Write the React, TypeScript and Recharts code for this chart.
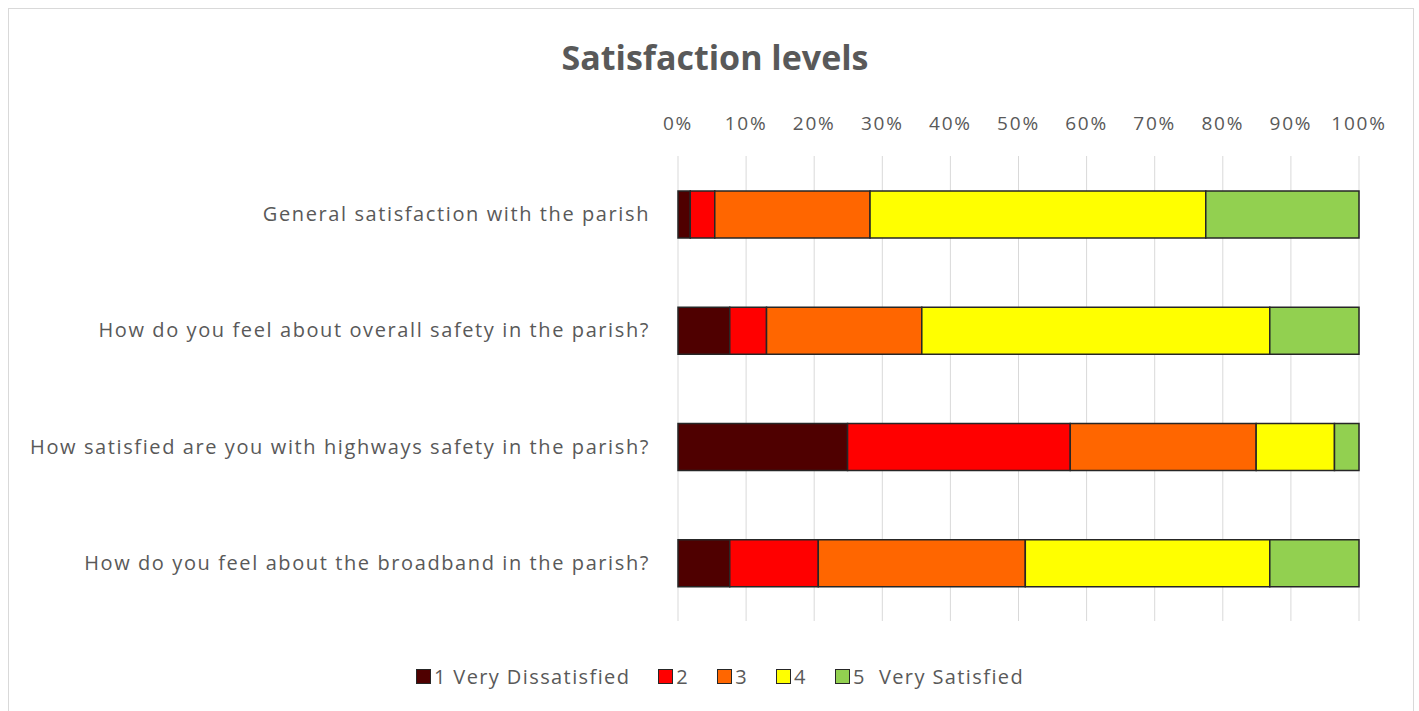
import { Bar, BarChart, CartesianGrid, XAxis, YAxis } from "recharts";

const questions = [
  "General satisfaction with the parish",
  "How do you feel about overall safety in the parish?",
  "How satisfied are you with highways safety in the parish?",
  "How do you feel about the broadband in the parish?",
];

const veryDissatisfied = [1.8, 7.6, 24.9, 7.6];
const dissatisfied = [3.6, 5.4, 32.7, 13.0];
const neutral = [22.8, 22.8, 27.3, 30.4];
const satisfied = [49.3, 51.1, 11.5, 35.9];
const verySatisfied = [22.5, 13.1, 3.6, 13.1];

const seriesNames = ["1 Very Dissatisfied", "2", "3", "4", "5  Very Satisfied"];
const seriesColors = ["#4f0000", "#ff0000", "#ff6600", "#ffff00", "#92d050"];
const percentTicks = [0, 10, 20, 30, 40, 50, 60, 70, 80, 90, 100];

const data = questions.map((q, i) => ({
  question: q,
  s1: veryDissatisfied[i],
  s2: dissatisfied[i],
  s3: neutral[i],
  s4: satisfied[i],
  s5: verySatisfied[i],
}));

const keys = ["s1", "s2", "s3", "s4", "s5"];
const textColor = "#595959";
const font = "'Open Sans', sans-serif";

export default function App() {
  return (
    <div
      style={{
        position: "absolute",
        left: 0,
        top: 0,
        width: 1419,
        height: 711,
        background: "#fff",
        fontFamily: font,
      }}
    >
      <div
        style={{
          position: "absolute",
          left: 8,
          top: 8,
          width: 1406,
          height: 710,
          border: "1px solid #d9d9d9",
          boxSizing: "border-box",
        }}
      />
      <div
        style={{
          position: "absolute",
          left: 0,
          width: 1430,
          top: 34,
          textAlign: "center",
          fontSize: 34,
          fontWeight: 700,
          color: textColor,
        }}
      >
        Satisfaction levels
      </div>
      <div style={{ position: "absolute", left: 0, top: 0 }}>
        <BarChart
          width={1419}
          height={711}
          data={data}
          layout="vertical"
          barSize={47}
          margin={{ top: 80, right: 60, bottom: 90, left: 0 }}
        >
          <CartesianGrid stroke="#d9d9d9" vertical horizontal={false} />
          <XAxis
            type="number"
            orientation="top"
            domain={[0, 100]}
            ticks={percentTicks}
            tickFormatter={(v) => `${v}%`}
            axisLine={false}
            tickLine={false}
            height={76}
            tickMargin={20}
            tick={{ fill: textColor, fontSize: 19, fontFamily: font, letterSpacing: 1.8 }}
          />
          <YAxis
            type="category"
            dataKey="question"
            width={678}
            axisLine={false}
            tickLine={false}
            tickMargin={22}
            tick={{ fill: textColor, fontSize: 20, fontFamily: font, letterSpacing: 1.6 }}
          />
          {keys.map((k, i) => (
            <Bar
              key={k}
              dataKey={k}
              name={seriesNames[i]}
              stackId="a"
              fill={seriesColors[i]}
              stroke="#262626"
              strokeWidth={1.5}
              isAnimationActive={false}
            />
          ))}
        </BarChart>
      </div>
      <div
        style={{
          position: "absolute",
          left: 0,
          width: 1440,
          top: 663,
          display: "flex",
          justifyContent: "center",
          gap: 28,
          fontSize: 20,
          letterSpacing: 1.4,
          color: textColor,
        }}
      >
        {seriesNames.map((n, i) => (
          <div key={n} style={{ display: "flex", alignItems: "center", gap: 3 }}>
            <span
              style={{
                display: "inline-block",
                width: 13,
                height: 13,
                background: seriesColors[i],
                border: "1px solid #262626",
              }}
            />
            <span style={{ whiteSpace: "pre" }}>{n}</span>
          </div>
        ))}
      </div>
    </div>
  );
}
